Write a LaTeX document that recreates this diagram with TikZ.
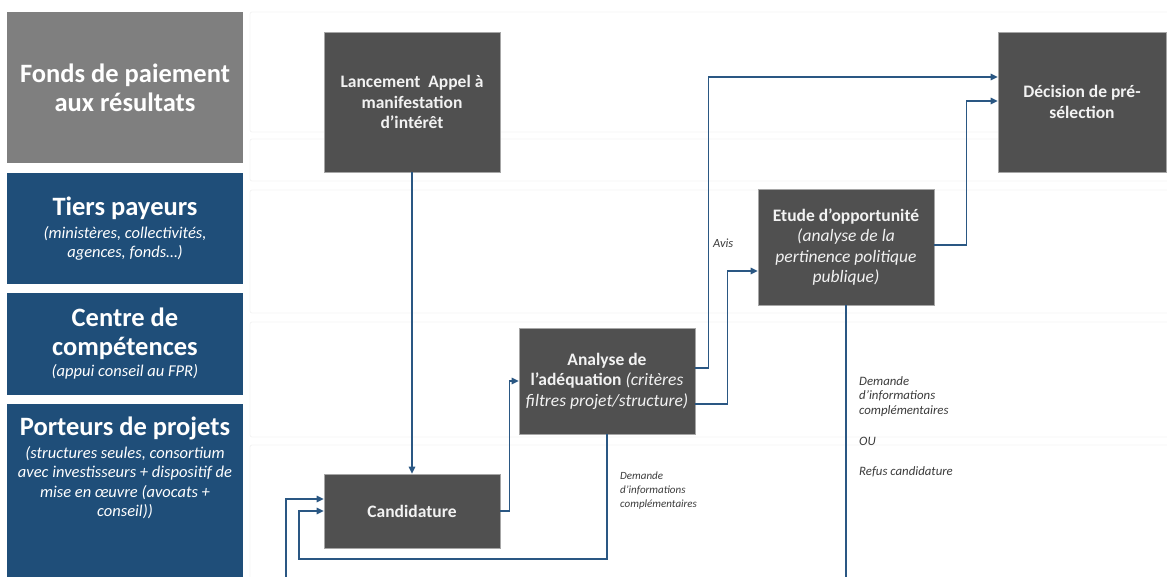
\documentclass[tikz,border=0pt]{standalone}
\usepackage{fontspec}
\setmainfont{Carlito}
\usetikzlibrary{arrows.meta,calc}
\definecolor{hdrgray}{HTML}{7F7F7F}
\definecolor{hdrblue}{HTML}{1F4E79}
\definecolor{boxgray}{HTML}{505050}
\definecolor{boxtext}{HTML}{F2F2F2}
\definecolor{linkblue}{HTML}{2A5783}
\definecolor{lanegray}{HTML}{F3F3F3}
\definecolor{labtext}{HTML}{3A3A3A}
\newcommand{\hdrtitle}{\fontsize{26.5}{30}\selectfont\upshape\bfseries}
\newcommand{\hdrsub}{\fontsize{16.5}{19.5}\selectfont\mdseries\itshape}
\begin{document}
\begin{tikzpicture}[x=1pt,y=-1pt,
  hdr/.style={rectangle,inner sep=0pt,draw=none,minimum width=236pt},
  hdrtxt/.style={align=center,text=white,inner sep=0pt},
  proc/.style={rectangle,fill=boxgray,draw=gray!70,line width=0.6pt,inner sep=0pt,
    minimum width=176pt,text=boxtext,align=center,font=\fontsize{17.5}{20.5}\selectfont\bfseries},
  link/.style={draw=linkblue,line width=1.4pt},
  arr/.style={link,-{Triangle[length=7pt,width=6.5pt]}},
  lab/.style={align=left,text=labtext,inner sep=0pt,font=\fontsize{11}{14}\selectfont\itshape},
  lane/.style={draw=lanegray,line width=0.8pt,rounded corners=2pt}
]
\useasboundingbox (0,0) rectangle (1167,576);
% faint lanes
\draw[lane] (250,12) rectangle (1175,132);
\draw[lane] (250,139) rectangle (1175,181);
\draw[lane] (250,190) rectangle (1175,313);
\draw[lane] (250,322) rectangle (1175,437);
\draw[lane] (250,445) rectangle (1175,600);
% headers
\node[hdr,fill=hdrgray,minimum height=151pt] (h1) at (125,87.5) {};
\node[hdr,fill=hdrblue,minimum height=111pt] (h2) at (125,228.5) {};
\node[hdr,fill=hdrblue,minimum height=102pt] (h3) at (125,344) {};
\node[hdr,fill=hdrblue,minimum height=180pt] (h4) at (125,494) {};
\node[hdrtxt,font=\fontsize{26.5}{29}\selectfont\bfseries] (t1) at (125,88) {Fonds de paiement\\aux résultats};
\node[hdrtxt,font=\hdrsub] (t2) at (125,229) {{\hdrtitle Tiers payeurs}\\[3pt]
  (ministères, collectivités,\\agences, fonds…)};
\node[hdrtxt,font=\hdrsub] (t3) at (125,344) {{\hdrtitle Centre de}\\[9pt]
  {\hdrtitle compétences}\\[2pt]
  (appui conseil au FPR)};
\node[hdrtxt,font=\hdrsub] (t4) at (125,468) {{\hdrtitle Porteurs de projets}\\[3pt]
  (structures seules, consortium\\avec investisseurs + dispositif de\\mise en œuvre (avocats +\\conseil))};
% process boxes
\node[proc,minimum height=140pt] (lanc) at (412,102) {Lancement\ \ Appel à\\manifestation\\d’intérêt};
\node[proc,minimum width=168pt,minimum height=140pt] (dec) at (1082,102) {Décision de pré-\\sélection};
\node[proc,minimum height=116pt] (etude) at (846,247) {Etude d’opportunité\\
  {\mdseries\itshape (analyse de la}\\{\mdseries\itshape pertinence politique}\\{\mdseries\itshape publique)}};
\node[proc,minimum height=106pt] (ana) at (607,381) {Analyse de\\
  l’adéquation {\mdseries\itshape (critères}\\{\mdseries\itshape filtres projet/structure)}};
\node[proc,minimum height=74pt] (cand) at (412,511) {Candidature};
% free ends
\coordinate (l1) at (299,559);
\coordinate (l2) at (286,595);
% connectors
\draw[arr] (lanc.south) -- (cand.north);
\draw[arr] (cand.east) -- ++(9,0) |- (ana.west);
\draw[arr] ([yshift=13pt]ana.east) -- ++(13,0) |- ([yshift=25pt]dec.west);
\draw[arr] ([yshift=-23pt]ana.east) -- ++(32,0) |- ([yshift=-24pt]etude.west);
\draw[arr] ([yshift=2pt]etude.east) -- ++(32,0) |- ([yshift=1pt]dec.west);
\draw[arr] (ana.south) |- (l1) |- (cand.west);
\draw[arr] (etude.south) |- (l2) |- ([yshift=12pt]cand.west);
% labels
\node[lab,anchor=west,font=\fontsize{12.5}{14}\selectfont\itshape] (avis) at (713,243) {Avis};
\node[lab,anchor=north west] (dem1) at (620,472) {Demande\\d’informations\\complémentaires};
\node[lab,anchor=north west,font=\fontsize{12.8}{14.5}\selectfont\itshape] (dem2) at (859,376) {Demande\\d’informations\\complémentaires\\[17pt]OU\\[15pt]Refus candidature};
\end{tikzpicture}
\end{document}
